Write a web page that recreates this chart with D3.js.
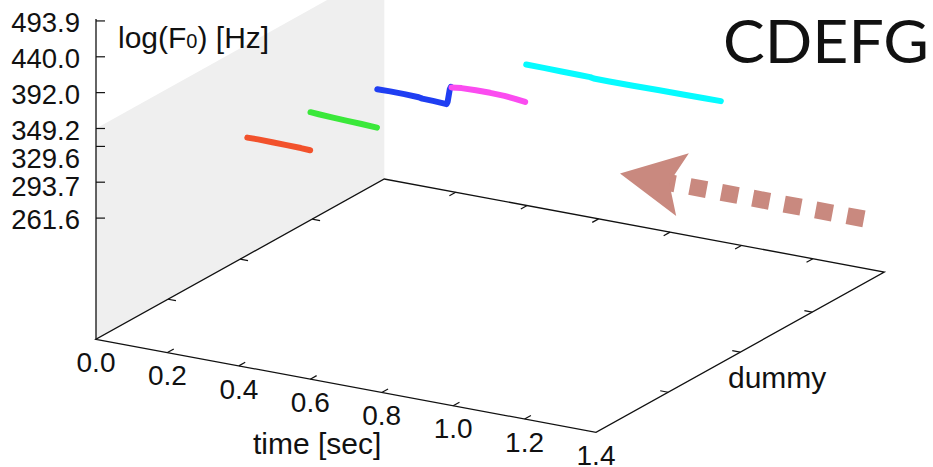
<!DOCTYPE html>
<html>
<head>
<meta charset="utf-8">
<script src="https://cdn.jsdelivr.net/npm/d3@7"></script>
<style>
  body { margin: 0; background: #fff; }
  text { font-family: "Liberation Sans", Arial, Helvetica, sans-serif; fill: #111; }
</style>
</head>
<body>
<div id="plot"></div>
<script>
// axis ticks
var timeTicks = [0.0, 0.2, 0.4, 0.6, 0.8, 1.0, 1.2, 1.4];
var freqTicks = [261.6, 293.7, 329.6, 349.2, 392.0, 440.0, 493.9];
var dummyTicks = [0.25, 0.5, 0.75];

// F0 contours, one per note (time in sec, F0 in Hz)
var noteNames = ["C", "D", "E", "F", "G"];
var noteColors = ["#f2522c", "#3ae83a", "#1f3ef2", "#fb4cf0", "#06fbff"];
var cTime = [0.020, 0.05, 0.09, 0.13, 0.17, 0.196];
var cHz   = [263.0, 263.2, 263.0, 262.8, 262.6, 262.2];
var dTime = [0.197, 0.22, 0.26, 0.30, 0.34, 0.383];
var dHz   = [296.5, 296.0, 295.3, 294.8, 294.3, 293.6];
var eTime = [0.384, 0.42, 0.46, 0.50, 0.51, 0.54, 0.578, 0.581, 0.584, 0.587, 0.590];
var eHz   = [332.3, 332.6, 332.5, 332.0, 331.2, 330.9, 330.2, 333.0, 340.0, 347.0, 350.0];
var fTime = [0.592, 0.62, 0.66, 0.70, 0.74, 0.77, 0.798];
var fHz   = [349.5, 350.8, 351.4, 351.5, 351.0, 350.0, 348.5];
var gTime = [0.801, 0.85, 0.90, 0.95, 0.98, 0.99, 1.03, 1.10, 1.17, 1.24, 1.30, 1.346];
var gHz   = [393.5, 393.3, 393.0, 392.8, 392.6, 391.6, 391.5, 391.8, 392.2, 392.5, 392.8, 393.0];
var noteDummy = 0.5;

// arrow annotation (3D coords: time tail -> tip, dummy, Hz)
var arrowTime = [1.343, 0.66];
var arrowDummy = 1;
var arrowHz = 207.5;

var wallTopHz = 349.2;

var width = 933, height = 467;

var svg = d3.select("#plot")
    .append("svg")
      .attr("width", width)
      .attr("height", height);

// oblique 3D projection built from linear / log scales
var x0 = 96;
var tX = d3.scaleLinear().domain([0, 1.4]).range([0, 500]);
var tY = d3.scaleLinear().domain([0, 1.4]).range([0, 93]);
var dX = d3.scaleLinear().domain([0, 1]).range([0, 288.3]);
var dY = d3.scaleLinear().domain([0, 1]).range([0, -160.3]);
var z = d3.scaleLog().domain([177, 497]).range([339.3, 19]);
var zMin = z.domain()[0], zMax = z.domain()[1];

function proj(t, d, hz) {
    return [x0 + tX(t) + dX(d), z(hz) + tY(t) + dY(d)];
}

var line = d3.line();

// grey wall at time = 0
svg.append("path")
    .attr("d", line([proj(0, 0, zMin), proj(0, 0, wallTopHz), proj(0, 1, wallTopHz), proj(0, 1, zMin)]) + "Z")
    .attr("fill", "#efefef");

// floor box
var ink = "#111";
svg.append("path")
    .attr("d", line([proj(0, 0, zMin), proj(1.4, 0, zMin), proj(1.4, 1, zMin), proj(0, 1, zMin)]) + "Z")
    .attr("fill", "none")
    .attr("stroke", ink)
    .attr("stroke-width", 1.3);

// vertical axis
svg.append("path")
    .attr("d", line([proj(0, 0, zMin), proj(0, 0, zMax)]))
    .attr("stroke", ink)
    .attr("stroke-width", 1.3);

var ticks = svg.append("g")
    .attr("stroke", ink)
    .attr("stroke-width", 1.2);

// time ticks on front and back edge
timeTicks.slice(1, -1).forEach(function(t) {
    ticks.append("path").attr("d", line([proj(t, 0, zMin), proj(t, 0.022, zMin)]));
    ticks.append("path").attr("d", line([proj(t, 1, zMin), proj(t, 0.978, zMin)]));
});
// dummy ticks on left and right edge
dummyTicks.forEach(function(d) {
    ticks.append("path").attr("d", line([proj(0, d, zMin), proj(0.022, d, zMin)]));
    ticks.append("path").attr("d", line([proj(1.4, d, zMin), proj(1.378, d, zMin)]));
});
// F0 ticks
freqTicks.forEach(function(f) {
    var p = proj(0, 0, f);
    ticks.append("path").attr("d", line([p, [p[0] + 9, p[1]]]));
});

// F0 tick labels, pushed down where they would collide
var prevBase = -Infinity;
freqTicks.slice().reverse().forEach(function(f) {
    var p = proj(0, 0, f);
    var base = Math.max(p[1] + 11.3, prevBase + 28.2);
    prevBase = base;
    svg.append("text")
        .attr("x", 80)
        .attr("y", base)
        .attr("text-anchor", "end")
        .style("font-size", "27.5px")
        .text(d3.format(".1f")(f));
});

// time tick labels
timeTicks.forEach(function(t) {
    var p = proj(t, 0, zMin);
    svg.append("text")
        .attr("x", p[0])
        .attr("y", p[1] + 32.7)
        .attr("text-anchor", "middle")
        .style("font-size", "28px")
        .text(d3.format(".1f")(t));
});

// F0 contours
var notes = [[cTime, cHz], [dTime, dHz], [eTime, eHz], [fTime, fHz], [gTime, gHz]];
notes.forEach(function(n, i) {
    var pts = n[0].map(function(t, j) { return proj(t, noteDummy, n[1][j]); });
    svg.append("path")
        .attr("class", "note-" + noteNames[i])
        .attr("d", line(pts))
        .attr("fill", "none")
        .attr("stroke", noteColors[i])
        .attr("stroke-width", 6)
        .attr("stroke-linecap", "round")
        .attr("stroke-linejoin", "round");
});

// dashed arrow
var arrowColor = "#c9897f";
var tail = proj(arrowTime[0], arrowDummy, arrowHz);
var tip = proj(arrowTime[1], arrowDummy, arrowHz);
var ux = tip[0] - tail[0], uy = tip[1] - tail[1];
var len = Math.sqrt(ux * ux + uy * uy);
ux /= len; uy /= len;
var nx = uy, ny = -ux;
function along(a, b) { return [tip[0] - ux * a + nx * b, tip[1] - uy * a + ny * b]; }
svg.append("path")
    .attr("d", line([tail, along(46, 0)]))
    .attr("stroke", arrowColor)
    .attr("stroke-width", 17)
    .attr("stroke-dasharray", "17.1,14.9");
svg.append("path")
    .attr("d", line([tip, along(64, -32.5), along(50, 0), along(63, 31.5)]) + "Z")
    .attr("fill", arrowColor);

// axis labels
var lab = svg.append("text")
    .attr("x", 118)
    .attr("y", 48)
    .style("font-size", "30px");
lab.append("tspan").text("log(F");
lab.append("tspan").style("font-size", "20px").text("0");
lab.append("tspan").text(") [Hz]");

svg.append("text")
    .attr("x", 253)
    .attr("y", 454)
    .style("font-size", "30px")
    .text("time [sec]");

svg.append("text")
    .attr("x", 728)
    .attr("y", 388)
    .style("font-size", "30px")
    .text("dummy");

// title
svg.append("text")
    .attr("x", 723)
    .attr("y", 63)
    .attr("textLength", 206)
    .attr("lengthAdjust", "spacingAndGlyphs")
    .style("font-family", "Lato, 'Open Sans', sans-serif")
    .style("font-size", "60px")
    .text(noteNames.join(""));
</script>
</body>
</html>
